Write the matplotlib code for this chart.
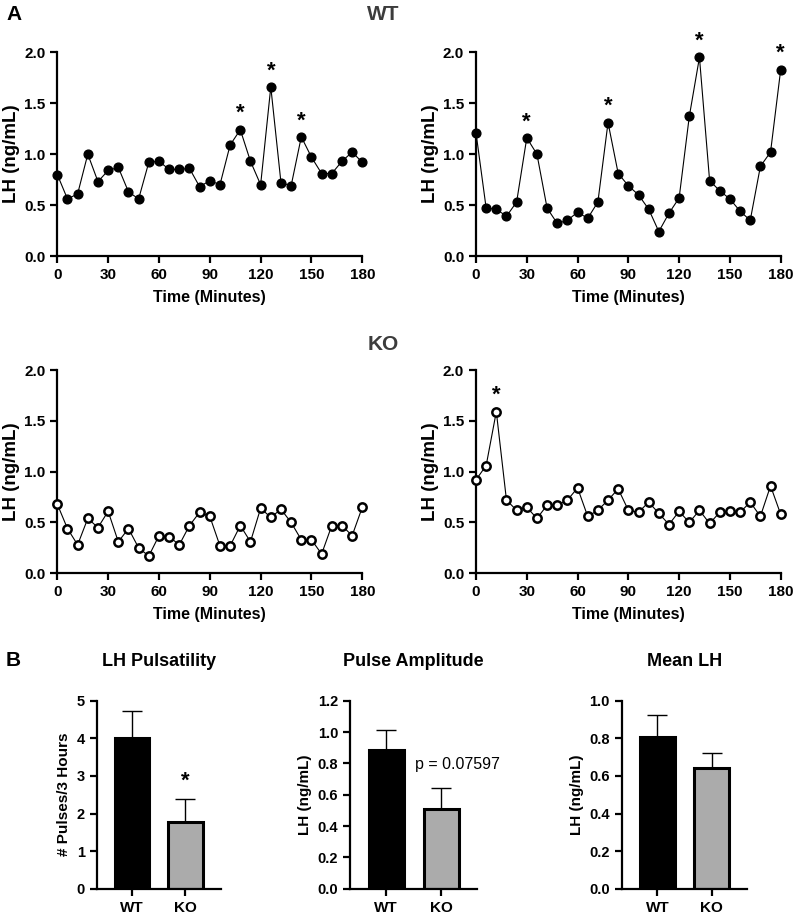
# LH pulse profiles (WT vs KO) plus summary bars
import numpy as np
import matplotlib
matplotlib.use("Agg")
import matplotlib.pyplot as plt

plt.rcParams["font.family"] = ["Liberation Sans", "DejaVu Sans"]

tempo = list(range(0, 181, 6))

wt_a = [0.80, 0.56, 0.61, 1.00, 0.73, 0.84, 0.87, 0.63, 0.56, 0.92, 0.93,
        0.85, 0.85, 0.86, 0.68, 0.74, 0.70, 1.09, 1.24, 0.93, 0.70, 1.66,
        0.72, 0.69, 1.17, 0.97, 0.81, 0.81, 0.93, 1.02, 0.92]
wt_b = [1.21, 0.47, 0.46, 0.39, 0.53, 1.16, 1.00, 0.47, 0.32, 0.35, 0.43,
        0.37, 0.53, 1.31, 0.81, 0.69, 0.60, 0.46, 0.24, 0.42, 0.57, 1.37,
        1.95, 0.74, 0.64, 0.56, 0.44, 0.35, 0.88, 1.02, 1.83]
ko_a = [0.68, 0.44, 0.28, 0.54, 0.45, 0.61, 0.31, 0.44, 0.25, 0.17, 0.37,
        0.36, 0.28, 0.47, 0.60, 0.56, 0.27, 0.27, 0.47, 0.31, 0.64, 0.55,
        0.63, 0.50, 0.33, 0.33, 0.19, 0.47, 0.47, 0.37, 0.65]
ko_b = [0.92, 1.06, 1.59, 0.72, 0.62, 0.65, 0.54, 0.67, 0.67, 0.72, 0.84,
        0.56, 0.62, 0.72, 0.83, 0.62, 0.60, 0.70, 0.59, 0.48, 0.61, 0.50,
        0.62, 0.49, 0.60, 0.61, 0.60, 0.70, 0.56, 0.86, 0.58]

# minutes where a pulse was called
pulsos_wt_a = [108, 126, 144]
pulsos_wt_b = [30, 78, 132, 180]
pulsos_ko_a = []
pulsos_ko_b = [12]

grupos = ["WT", "KO"]
pulsatilidade = [4.0, 1.78]
pulsatilidade_sem = [0.72, 0.60]
amplitude = [0.885, 0.511]
amplitude_sem = [0.128, 0.134]
media_lh = [0.809, 0.642]
media_lh_sem = [0.113, 0.078]

W, H = 794, 916
fig = plt.figure(figsize=(W / 100, H / 100), dpi=100)


def rect(x0, x1, y0, y1):
    return [x0 / W, 1 - y1 / H, (x1 - x0) / W, (y1 - y0) / H]


def estilo(ax):
    for s in ["top", "right"]:
        ax.spines[s].set_visible(False)
    for s in ["left", "bottom"]:
        ax.spines[s].set_linewidth(1.6)
    ax.tick_params(width=1.6, length=5, direction="out")


def plot_perfil(box, y, pulsos, aberto):
    ax = fig.add_axes(rect(*box))
    if aberto:
        ax.plot(tempo, y, "-o", color="black", lw=0.8, ms=6, mfc="white",
                mec="black", mew=1.8, clip_on=False, zorder=3)
    else:
        ax.plot(tempo, y, "-o", color="black", lw=0.8, ms=6.3, clip_on=False,
                zorder=3)
    for t in pulsos:
        v = y[tempo.index(t)]
        ax.annotate("*", (t, v), xytext=(0, 4), textcoords="offset points",
                    ha="center", va="bottom", fontsize=16, fontweight="bold",
                    annotation_clip=False)
    ax.set_xlim(0, 180)
    ax.set_ylim(0, 2.0)
    ax.set_xticks(range(0, 181, 30))
    ax.set_yticks([0, 0.5, 1.0, 1.5, 2.0])
    ax.set_yticklabels([f"{v:.1f}" for v in [0, 0.5, 1.0, 1.5, 2.0]])
    estilo(ax)
    for lab in ax.get_xticklabels() + ax.get_yticklabels():
        lab.set_fontsize(11)
        lab.set_fontweight("bold")
    ax.set_ylabel("LH (ng/mL)", fontsize=13.5, fontweight="bold", labelpad=3)
    ax.set_xlabel("Time (Minutes)", fontsize=11.5, fontweight="bold",
                  labelpad=6)
    return ax


def plot_barras(box, vals, sems, titulo, ylab, ymax, passo, fmt, nota=None,
                pos_nota=None):
    ax = fig.add_axes(rect(*box))
    x = np.arange(len(grupos))
    ax.errorbar(x, vals, yerr=[np.zeros(len(sems)), sems], fmt="none",
                ecolor="black", elinewidth=1, capsize=7, capthick=1,
                zorder=1)
    ax.bar(x, vals, width=0.64, color=["black", "#ababab"],
           edgecolor="black", linewidth=2.2, zorder=2)
    ax.set_xlim(-0.66, 1.66)
    ax.set_ylim(0, ymax)
    ticks = np.arange(0, ymax + passo / 2, passo)
    ax.set_yticks(ticks)
    ax.set_yticklabels([fmt.format(t) for t in ticks])
    ax.set_xticks(x)
    ax.set_xticklabels(grupos)
    estilo(ax)
    for lab in ax.get_xticklabels():
        lab.set_fontsize(11)
        lab.set_fontweight("bold")
    for lab in ax.get_yticklabels():
        lab.set_fontsize(10.5)
        lab.set_fontweight("bold")
    ax.set_ylabel(ylab, fontsize=11, fontweight="bold", labelpad=4)
    ax.set_title(titulo, fontsize=13, fontweight="bold", pad=25)
    if nota == "*":
        ax.text(1, vals[1] + sems[1] + 0.04 * ymax, "*", ha="center",
                va="bottom", fontsize=16, fontweight="bold")
    elif nota:
        ax.text(pos_nota[0], pos_nota[1], nota, ha="center", va="center",
                fontsize=11.5)
    return ax


plot_perfil((57.3, 362.3, 52.3, 256), wt_a, pulsos_wt_a, False)
plot_perfil((476, 780.7, 52.3, 256), wt_b, pulsos_wt_b, False)
plot_perfil((57.3, 362.3, 370, 573.3), ko_a, pulsos_ko_a, True)
plot_perfil((476, 780.7, 370, 573.3), ko_b, pulsos_ko_b, True)

plot_barras((96.7, 220.7, 700.7, 888.7), pulsatilidade, pulsatilidade_sem,
            "LH Pulsatility", "# Pulses/3 Hours", 5, 1, "{:.0f}", nota="*")
plot_barras((350, 477.3, 700.7, 888.7), amplitude, amplitude_sem,
            "Pulse Amplitude", "LH (ng/mL)", 1.2, 0.2, "{:.1f}",
            nota="p = 0.07597", pos_nota=(1.29, 0.79))
plot_barras((621.7, 747.3, 700.7, 888.7), media_lh, media_lh_sem,
            "Mean LH", "LH (ng/mL)", 1.0, 0.2, "{:.1f}")

fig.text(383 / W, 1 - 14 / H, "WT", ha="center", va="center", fontsize=15,
         fontweight="bold", color="#3c3c3c")
fig.text(383 / W, 1 - 345 / H, "KO", ha="center", va="center", fontsize=15,
         fontweight="bold", color="#3c3c3c")
fig.text(6 / W, 1 - 14 / H, "A", ha="left", va="center", fontsize=15,
         fontweight="bold")
fig.text(6 / W, 1 - 660 / H, "B", ha="left", va="center", fontsize=15,
         fontweight="bold")

fig.savefig("out.png", dpi=100)
plt.close(fig)
